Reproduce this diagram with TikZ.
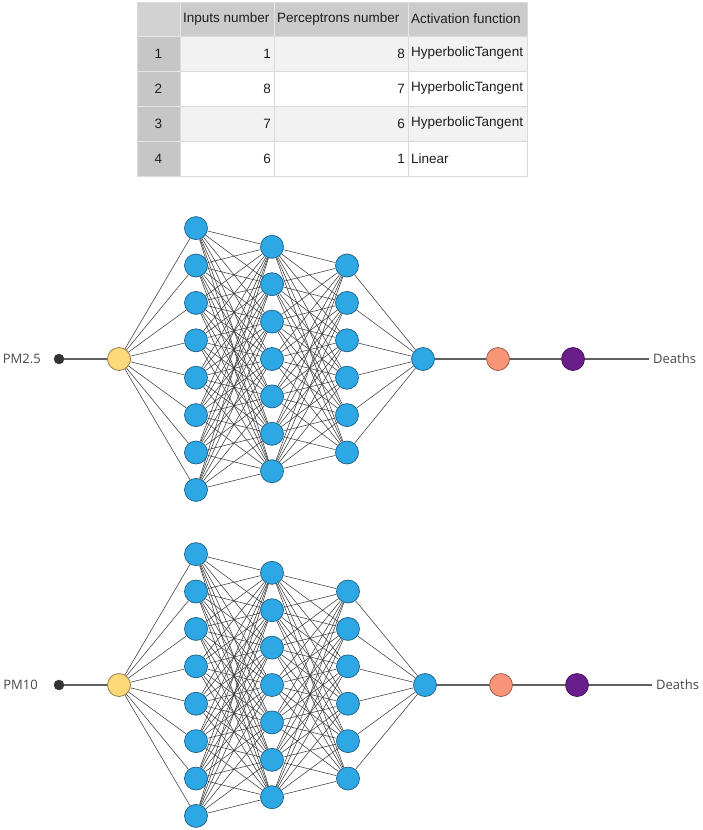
\documentclass[tikz,border=0pt]{standalone}
\usepackage{fontspec}
\setmainfont{Liberation Sans}
\newfontfamily\labelfont{Open Sans}
\usetikzlibrary{backgrounds}
\definecolor{nblue}{HTML}{2DA8E4}
\definecolor{nbluedk}{HTML}{1D5F86}
\definecolor{nyellow}{HTML}{FDD97A}
\definecolor{nyellowdk}{HTML}{8A7244}
\definecolor{nsalmon}{HTML}{F89478}
\definecolor{nsalmondk}{HTML}{8E5444}
\definecolor{npurple}{HTML}{6A1E8C}
\definecolor{npurpledk}{HTML}{3A1050}
\definecolor{ndot}{HTML}{333333}
\definecolor{edgecol}{HTML}{3C3C3C}
\definecolor{linecol}{HTML}{606060}
\definecolor{labcol}{HTML}{484848}
\definecolor{hdrfill}{HTML}{CBCBCB}
\definecolor{cornerfill}{HTML}{D2D2D2}
\definecolor{numfill}{HTML}{C6C6C6}
\definecolor{stripe}{HTML}{F2F2F2}
\definecolor{gridcol}{HTML}{DADADA}
\definecolor{hdrgrid}{HTML}{E6E6E6}
\definecolor{celltext}{HTML}{1E1E1E}
\tikzset{
  neuron/.style={circle, draw=nbluedk, fill=nblue, line width=0.7pt, minimum size=23pt, inner sep=0pt},
  inneuron/.style={neuron, draw=nyellowdk, fill=nyellow},
  salneuron/.style={neuron, draw=nsalmondk, fill=nsalmon},
  purneuron/.style={neuron, draw=npurpledk, fill=npurple},
  blackdot/.style={circle, fill=ndot, draw=ndot, minimum size=10pt, inner sep=0pt},
  edge/.style={draw=edgecol, line width=0.55pt},
  mainline/.style={draw=linecol, line width=1.1pt},
  netlabel/.style={font=\labelfont\fontsize{13}{15}\selectfont, text=labcol, inner sep=0pt},
  celltxt/.style={font=\fontsize{13.5}{16}\selectfont, text=celltext, inner sep=0pt},
}
\begin{document}
\begin{tikzpicture}[x=1pt,y=-1pt]
\useasboundingbox (0,0) rectangle (703,830);
% ---------- table ----------
\fill[cornerfill] (137,2) rectangle (180,36);
\fill[hdrfill] (180,2) rectangle (527,36);
\fill[numfill] (137,36) rectangle (180,176);
\fill[stripe] (180,36) rectangle (527,71);
\fill[white] (180,71) rectangle (527,106);
\fill[stripe] (180,106) rectangle (527,141);
\fill[white] (180,141) rectangle (527,176);
\draw[hdrgrid, line width=0.8pt] (180,2) -- (180,36) (274,2) -- (274,36) (408,2) -- (408,36);
\draw[hdrgrid, line width=0.8pt] (137,36) -- (180,36) (137,71) -- (180,71) (137,106) -- (180,106) (137,141) -- (180,141);
\draw[gridcol, line width=0.8pt] (180,36) -- (527,36) (180,71) -- (527,71) (180,106) -- (527,106) (180,141) -- (527,141);
\draw[gridcol, line width=0.8pt] (274,36) -- (274,176) (408,36) -- (408,176) (180,36) -- (180,176);
\draw[gridcol, line width=0.8pt] (137,2) rectangle (527,176);
% header
\node[celltxt, anchor=west] (h1) at (183,19) {Inputs number};
\node[celltxt, anchor=west] (h2) at (277,19) {Perceptrons number};
\node[celltxt, anchor=west] (h3) at (411,19) {Activation function};
% rows
\foreach \r/\y/\inp/\per/\act in {1/53.5/1/8/HyperbolicTangent, 2/88.5/8/7/HyperbolicTangent, 3/123.5/7/6/HyperbolicTangent, 4/158.5/6/1/Linear}{
  \node[celltxt] (rn\r) at (158.5,\y) {\r};
  \node[celltxt, anchor=east] (ri\r) at (271,\y) {\inp};
  \node[celltxt, anchor=east] (rp\r) at (405,\y) {\per};
  \node[celltxt, anchor=west] (ra\r) at (411,\y) {\act};
}
% ---------- networks ----------
\foreach \k/\cy/\xd/\xy/\xa/\xb/\xc/\xo/\xs/\xp/\xe/\lab/\labx in
  {1/359/59/119/196/272/347/423/498/573/649/PM2.5/41,
   2/685/59/119/196/272/348/425/501/577/652/PM10/38}{
  \node[netlabel, anchor=east] (lab\k) at (\labx,\cy) {\lab};
  \node[blackdot] (dot\k) at (\xd,\cy) {};
  \node[inneuron] (in\k) at (\xy,\cy) {};
  \foreach \i in {1,...,8} \node[neuron] (a\k-\i) at (\xa,{\cy+(\i-4.5)*37.4}) {};
  \foreach \i in {1,...,7} \node[neuron] (b\k-\i) at (\xb,{\cy+(\i-4)*37.4}) {};
  \foreach \i in {1,...,6} \node[neuron] (c\k-\i) at (\xc,{\cy+(\i-3.5)*37.4}) {};
  \node[neuron] (out\k) at (\xo,\cy) {};
  \node[salneuron] (s\k) at (\xs,\cy) {};
  \node[purneuron] (p\k) at (\xp,\cy) {};
  \coordinate (end\k) at (\xe,\cy);
  \node[netlabel, anchor=west] (deaths\k) at ({\xe+4},\cy) {Deaths};
  \begin{pgfonlayer}{background}
    \draw[mainline] (dot\k) -- (in\k);
    \draw[mainline] (out\k) -- (s\k);
    \draw[mainline] (s\k) -- (p\k);
    \draw[mainline] (p\k) -- (end\k);
    \foreach \i in {1,...,8} \draw[edge] (in\k) -- (a\k-\i);
    \foreach \i in {1,...,8} \foreach \j in {1,...,7} \draw[edge] (a\k-\i) -- (b\k-\j);
    \foreach \i in {1,...,7} \foreach \j in {1,...,6} \draw[edge] (b\k-\i) -- (c\k-\j);
    \foreach \i in {1,...,6} \draw[edge] (c\k-\i) -- (out\k);
  \end{pgfonlayer}
}
\end{tikzpicture}
\end{document}
